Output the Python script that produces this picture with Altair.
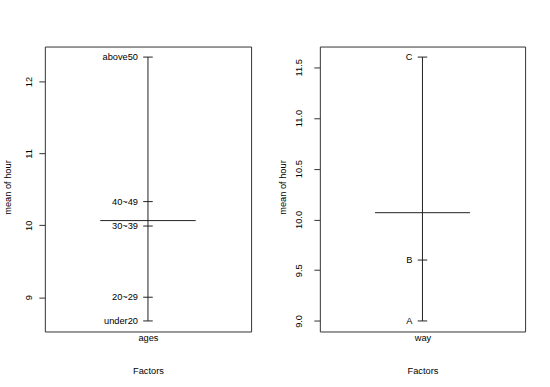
import altair as alt
import pandas as pd

# ---- data (R plot.design of mean hour) ----
ages_levels = ["under20", "20~29", "30~39", "40~49", "above50"]
ages_means = [8.67, 9.00, 9.99, 10.33, 12.34]
way_levels = ["A", "B", "C"]
way_means = [9.00, 9.60, 11.60]
ages_ticks = [9, 10, 11, 12]
way_ticks = [9.0, 9.5, 10.0, 10.5, 11.0, 11.5]
factor_names = ["ages", "way"]

FONT = "Liberation Sans"
INK = "#222222"
FS = 9.3


def panel(levels, means, ticks, fmt, name, label_pad, width):
    lo, hi = min(means), max(means)
    ext = 0.04 * (hi - lo)
    ydom = [lo - ext, hi + ext]
    grand = sum(means) / len(means)

    pts = pd.DataFrame({"level": levels, "mean": means,
                        "x": [1.0] * len(levels),
                        "xl": [0.975] * len(levels),
                        "xr": [1.025] * len(levels)})
    stem = pd.DataFrame({"x": [1.0], "lo": [lo], "hi": [hi]})
    gm = pd.DataFrame({"x1": [0.75], "x2": [1.25], "g": [grand]})

    xs = alt.Scale(domain=[0.46, 1.54], nice=False, zero=False)
    ys = alt.Scale(domain=ydom, nice=False, zero=False)

    yaxis = alt.Axis(values=ticks, format=fmt, title="mean of hour",
                     labelAngle=270, labelAlign="center", labelBaseline="middle",
                     labelPadding=label_pad, tickSize=6, grid=False, domain=False,
                     titleX=-37.5, titleY=141, titleAngle=270,
                     titleAlign="center", titleBaseline="middle")
    xaxis = alt.Axis(values=[1], labelExpr=f"'{name}'", ticks=False, tickSize=0,
                     domain=False, grid=False, title="Factors",
                     labelPadding=6, labelBaseline="middle",
                     titleY=39, titleBaseline="middle")

    stem_l = alt.Chart(stem).mark_rule(color=INK, strokeWidth=1).encode(
        x=alt.X("x:Q", scale=xs, axis=xaxis),
        y=alt.Y("lo:Q", scale=ys, axis=yaxis),
        y2="hi:Q",
    )
    tick_l = alt.Chart(pts).mark_rule(color=INK, strokeWidth=1).encode(
        x=alt.X("xl:Q", scale=xs, axis=xaxis),
        x2="xr:Q",
        y=alt.Y("mean:Q", scale=ys, axis=yaxis),
    )
    mean_l = alt.Chart(gm).mark_rule(color=INK, strokeWidth=1).encode(
        x=alt.X("x1:Q", scale=xs, axis=xaxis),
        x2="x2:Q",
        y=alt.Y("g:Q", scale=ys, axis=yaxis),
    )
    text_l = alt.Chart(pts).mark_text(align="right", baseline="middle", dx=-10,
                                      font=FONT, fontSize=FS, color="black").encode(
        x=alt.X("x:Q", scale=xs, axis=xaxis),
        y=alt.Y("mean:Q", scale=ys, axis=yaxis),
        text="level:N",
    )
    return alt.layer(stem_l, tick_l, mean_l, text_l).properties(width=width, height=286)


left = panel(ages_levels, ages_means, ages_ticks, "d", factor_names[0], 10, 207)
right = panel(way_levels, way_means, way_ticks, ".1f", factor_names[1], 15.7, 206)

chart = alt.hconcat(left, right, spacing=26).properties(
    padding={"left": 3, "top": 45, "right": 24, "bottom": 12}
).configure(font=FONT).configure_view(
    stroke="#333333", strokeWidth=1
).configure_axis(
    labelFont=FONT, titleFont=FONT, labelFontSize=FS, titleFontSize=FS,
    titleFontWeight="normal", labelColor="black", titleColor="black",
    tickColor="#333333"
)

chart.save("out.html", embed_options={"renderer": "svg", "actions": False})
